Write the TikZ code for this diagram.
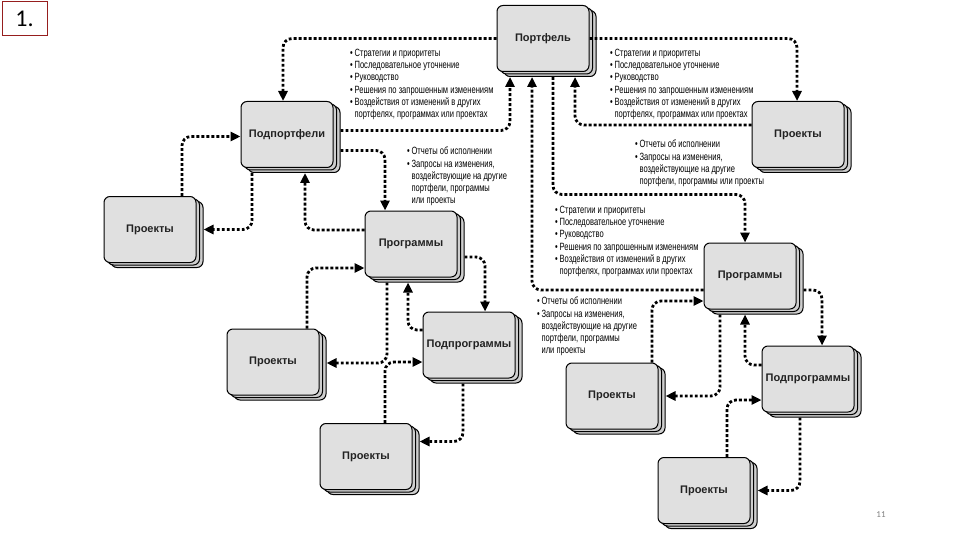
\documentclass[tikz,border=0pt]{standalone}
\usepackage{fontspec}
\setmainfont{Liberation Sans}
\newfontfamily\narrowfont[FakeStretch=0.72]{Liberation Sans}
\newfontfamily\calfont{Carlito}
\usetikzlibrary{arrows.meta,shadows,calc}
\definecolor{boxfill}{RGB}{224,224,224}
\definecolor{shfill}{RGB}{206,206,206}
\definecolor{numred}{RGB}{150,30,30}
\definecolor{boxtext}{RGB}{34,34,34}
\begin{document}
\begin{tikzpicture}[x=1pt,y=-1pt,
  box/.style={draw=black, line width=1pt, rounded corners=6pt, fill=boxfill,
    minimum width=92pt, minimum height=66pt, inner sep=0pt, text=boxtext,
    font=\bfseries\fontsize{11}{13}\selectfont,
    copy shadow={shadow xshift=7pt, shadow yshift=-5pt, fill=shfill, draw=black, line width=1pt},
    copy shadow={shadow xshift=3.5pt, shadow yshift=-2.5pt, fill=shfill, draw=black, line width=1pt}},
  conn/.style={line width=2.8pt, dash pattern=on 2.8pt off 2.2pt, rounded corners=9pt,
    -{Triangle[length=10pt,width=9pt]}},
  txt/.style={anchor=north west, align=left, inner sep=0pt,
    font=\narrowfont\fontsize{10.5}{12.2}\selectfont}
]
\useasboundingbox[fill=white] (0,0) rectangle (960,540);

% number box and page number
\node[draw=numred, line width=1pt, minimum width=45pt, minimum height=34pt, inner sep=0pt,
  font=\calfont\fontsize{24}{24}\selectfont] (num) at (24.5,19) {1.};
\node[font=\calfont\fontsize{9}{9}\selectfont, text=gray] (page) at (881,515) {11};

% boxes
\node[box] (Pf)   at (543,38.5)  {Портфель};
\node[box] (SP)   at (287,134.5) {Подпортфели};
\node[box] (PrA)  at (150,229.5) {Проекты};
\node[box] (PgL)  at (411,244)   {Программы};
\node[box] (PrB)  at (273,362)   {Проекты};
\node[box] (SPgL) at (469,345)   {Подпрограммы};
\node[box] (PrC)  at (366,456.5) {Проекты};
\node[box] (PrD)  at (798,134.5) {Проекты};
\node[box] (PgR)  at (750,276)   {Программы};
\node[box] (PrE)  at (612,396)   {Проекты};
\node[box] (SPgR) at (808,379)   {Подпрограммы};
\node[box] (PrF)  at (704,490.5) {Проекты};

% text blocks
\node[txt] (tA) at (350,49) {•\,Стратегии и приоритеты\\
•\,Последовательное уточнение\\
•\,Руководство\\
•\,Решения по запрошенным изменениям\\
•\,Воздействия от изменений в других\\
\phantom{•\,}портфелях, программах или проектах};
\node[txt] (tB) at (610,49) {•\,Стратегии и приоритеты\\
•\,Последовательное уточнение\\
•\,Руководство\\
•\,Решения по запрошенным изменениям\\
•\,Воздействия от изменений в других\\
\phantom{•\,}портфелях, программах или проектах};
\node[txt] (tC) at (407,147) {•\,Отчеты об исполнении\\
•\,Запросы на изменения,\\
\phantom{•\,}воздействующие на другие\\
\phantom{•\,}портфели, программы\\
\phantom{•\,}или проекты};
\node[txt] (tD) at (635,140) {•\,Отчеты об исполнении\\
•\,Запросы на изменения,\\
\phantom{•\,}воздействующие на другие\\
\phantom{•\,}портфели, программы или проекты};
\node[txt] (tE) at (555,206) {•\,Стратегии и приоритеты\\
•\,Последовательное уточнение\\
•\,Руководство\\
•\,Решения по запрошенным изменениям\\
•\,Воздействия от изменений в других\\
\phantom{•\,}портфелях, программах или проектах};
\node[txt] (tF) at (537,297) {•\,Отчеты об исполнении\\
•\,Запросы на изменения,\\
\phantom{•\,}воздействующие на другие\\
\phantom{•\,}портфели, программы\\
\phantom{•\,}или проекты};

% connectors around the portfolio
\draw[conn] (Pf.west) -| ($(SP.north)+(-4,0)$);
\draw[conn] ($(SP.east)+(7,-4)$) -| ($(Pf.south)+(-33,5)$);
\draw[conn] ($(PgR.west)+(0,14)$) -| ($(Pf.south)+(-11,5)$);
\draw[conn] ($(Pf.south)+(10,5)$) |- ($(PgR.north)+(-5,-48)$) -- ($(PgR.north)+(-5,0)$);
\draw[conn] ($(PrD.west)+(0,-9.5)$) -| ($(Pf.south)+(32,5)$);
\draw[conn] (Pf.east) -| ($(PrD.north)+(-1,0)$);

% left side
\draw[conn] ($(PrA.north)+(32,0)$) |- ($(SP.west)+(0,2)$);
\draw[conn] ($(SP.south)+(-35,5)$) |- ($(PrA.east)+(7,0)$);
\draw[conn] ($(SP.east)+(7,16)$) -| ($(PgL.north)+(-26,0)$);
\draw[conn] ($(PgL.west)+(0,-14)$) -| ($(SP.south)+(18,5)$);
\draw[conn] ($(PrB.north)+(34,0)$) |- ($(PgL.west)+(0,24)$);
\draw[conn] ($(PgL.south)+(-24,5)$) |- ($(PrB.east)+(7,1)$);
\draw[conn] ($(SPgL.west)+(0,-15)$) -| ($(PgL.south)+(-3,5)$);
\draw[conn] ($(PgL.east)+(7,13)$) -| ($(SPgL.north)+(16,0)$);
\draw[conn] ($(PrC.north)+(19,0)$) |- ($(SPgL.west)+(0,17)$);
\draw[conn] ($(SPgL.south)+(-6,5)$) |- ($(PrC.east)+(7,-15)$);

% right side
\draw[conn] ($(PrE.north)+(40,0)$) |- ($(PgR.west)+(0,25)$);
\draw[conn] ($(PgR.south)+(-30,5)$) |- ($(PrE.east)+(7,0)$);
\draw[conn] ($(SPgR.west)+(0,-14)$) -| ($(PgR.south)+(-5,5)$);
\draw[conn] ($(PgR.east)+(7,14)$) -| ($(SPgR.north)+(14,0)$);
\draw[conn] ($(PrF.north)+(23,0)$) |- ($(SPgR.west)+(0,21)$);
\draw[conn] ($(SPgR.south)+(-8,5)$) |- ($(PrF.east)+(7,0)$);
\end{tikzpicture}
\end{document}
